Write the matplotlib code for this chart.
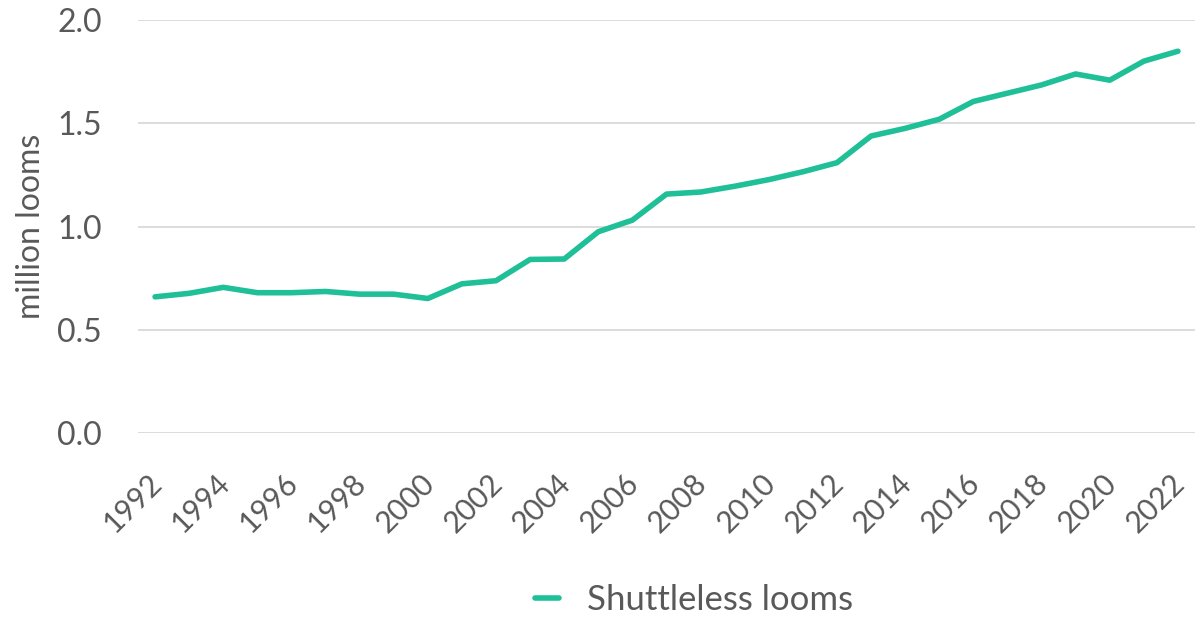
import numpy as np
import matplotlib.pyplot as plt
import matplotlib.transforms as mtransforms

years = list(range(1992, 2023))
looms = [0.660, 0.677, 0.706, 0.680, 0.680, 0.686, 0.673, 0.673, 0.652, 0.723,
         0.738, 0.841, 0.843, 0.975, 1.031, 1.157, 1.167, 1.195, 1.227, 1.265,
         1.309, 1.438, 1.475, 1.519, 1.605, 1.645, 1.685, 1.738, 1.708, 1.800,
         1.848]
year_labels = [str(y) for y in years if y % 2 == 0]

plt.rcParams['font.family'] = ['Lato', 'DejaVu Sans']
grey = '#595959'

fig = plt.figure(figsize=(11.95, 6.19), dpi=100)
ax = fig.add_axes([0.1155, 0.300, 0.8845, 0.668])

ax.plot(years, looms, lw=4.0, color='#1fbf98', solid_capstyle='round',
        label='Shuttleless looms')

ax.set_xlim(1991.5, 2022.5)
ax.set_ylim(0, 2.0)
ax.set_yticks([0, 0.5, 1.0, 1.5, 2.0])
ax.set_yticklabels(['0.0', '0.5', '1.0', '1.5', '2.0'])
ax.set_xticks([y for y in years if y % 2 == 0])
ax.set_xticklabels(year_labels, rotation=45, ha='right', rotation_mode='anchor')

ax.grid(axis='y', color='#d9d9d9', lw=1.3)
ax.set_axisbelow(True)
for s in ax.spines.values():
    s.set_visible(False)
ax.tick_params(axis='y', length=0, labelsize=23, colors=grey, pad=26)
ax.tick_params(axis='x', length=0, labelsize=21.5, colors=grey, pad=22)
ax.set_ylabel('million looms', fontsize=23, color=grey, labelpad=8)

# nudge the year labels a little left and down (after tick_params, which resets transforms)
shift = mtransforms.ScaledTranslation(-8 / 100, -5 / 100, fig.dpi_scale_trans)
for lab in ax.get_xticklabels():
    lab.set_transform(lab.get_transform() + shift)

fig.legend(loc='center', bbox_to_anchor=(694 / 1195, 1 - 600 / 619),
           frameon=False, fontsize=25, labelcolor=grey, handlelength=0.7,
           handletextpad=0.8)

fig.savefig('out.png', dpi=100)
